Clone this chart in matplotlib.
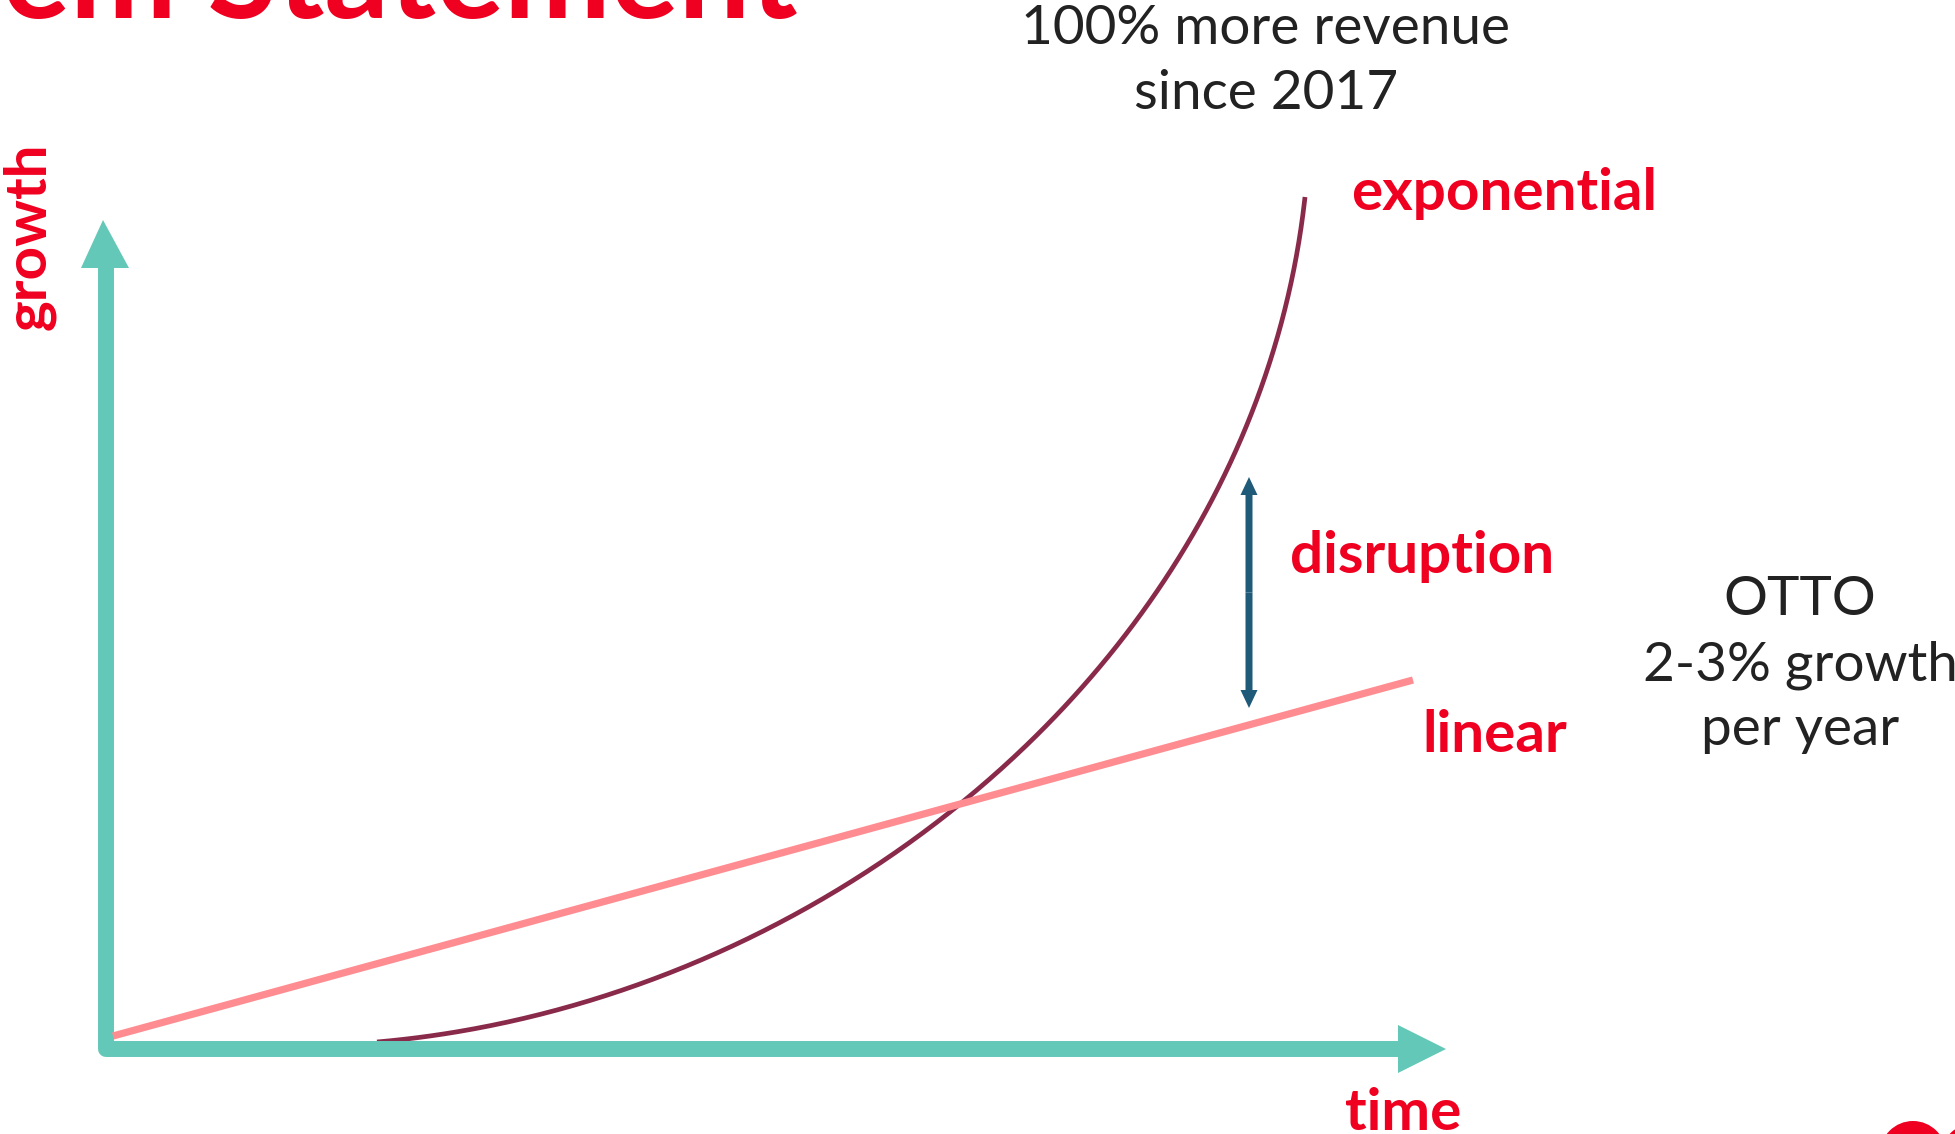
import matplotlib
matplotlib.use("Agg")
import numpy as np
import matplotlib.pyplot as plt
from matplotlib.patches import Polygon, Ellipse

# ---------------- data ----------------
linear_time = [0.07, 13.07]
linear_growth = [0.13, 3.69]

exp_time = [2.71, 3.94, 4.94, 5.94, 6.94, 7.94, 8.48, 9.44, 9.94, 10.44, 10.94, 11.34, 11.64, 11.91, 11.99]
exp_growth = [0.07, 0.23, 0.52, 0.90, 1.38, 1.98, 2.41, 3.29, 3.81, 4.44, 5.27, 6.09, 6.93, 8.09, 8.52]

disruption_x = 11.43
disruption_range = [3.41, 5.72]

axis_top = 8.29      # tip of growth arrow
axis_right = 13.40   # tip of time arrow

title = "Problem Statement"
note_exp = ["100% more revenue", "since 2017"]
note_otto = ["OTTO", "2-3% growth", "per year"]
labels = {"exponential": (12.45, 8.39), "disruption": (11.84, 4.76),
          "linear": (13.16, 2.97), "time": (12.39, -0.81)}

# ---------------- style ----------------
RED = "#F00020"
TEAL = "#64C8B8"
SALMON = "#FF8C90"
MAROON = "#8A2A4B"
BLUE = "#1F5B79"
TXT = "#222222"
BOLD = dict(family="Lato", weight="bold", color=RED, fontsize=42)
REG = dict(family="Lato", color=TXT, fontsize=39.5)


def bezier_fit(xs, ys, iters=30, n=400):
    """Least-squares cubic Bezier through the read points (ends fixed) for a smooth stroke."""
    D = np.column_stack([xs, ys]).astype(float)
    P0, P3 = D[0], D[-1]
    seg = np.r_[0, np.cumsum(np.linalg.norm(np.diff(D, axis=0), axis=1))]
    t = seg / seg[-1]

    def basis(t):
        t = np.asarray(t)[:, None]
        return (1 - t) ** 3, 3 * (1 - t) ** 2 * t, 3 * (1 - t) * t ** 2, t ** 3

    for _ in range(iters):
        b0, b1, b2, b3 = basis(t)
        rhs = D - b0 * P0 - b3 * P3
        A = np.hstack([b1, b2])
        sol, *_ = np.linalg.lstsq(A, rhs, rcond=None)
        P1, P2 = sol[0], sol[1]
        tt = np.linspace(0, 1, 4000)
        c0, c1, c2, c3 = basis(tt)
        curve = c0 * P0 + c1 * P1 + c2 * P2 + c3 * P3
        d = np.linalg.norm(curve[None, :, :] - D[:, None, :], axis=2)
        t = tt[np.argmin(d, axis=1)]
        t[0], t[-1] = 0.0, 1.0
    tt = np.linspace(0, 1, n)
    c0, c1, c2, c3 = basis(tt)
    curve = c0 * P0 + c1 * P1 + c2 * P2 + c3 * P3
    return curve[:, 0], curve[:, 1]


fig = plt.figure(figsize=(19.56, 11.34), dpi=100)
ax = fig.add_axes([0, 0, 1, 1])
ax.set_xlim(-1.06, 18.50)
ax.set_ylim(-0.85, 10.49)
ax.axis("off")

# axes (L shape) with arrow heads
hl, hw = 0.48, 0.24
ax.plot([0, 0, axis_right - hl], [axis_top - hl, 0, 0], color=TEAL, lw=11.5,
        solid_joinstyle="round", solid_capstyle="butt", zorder=2)
ax.add_patch(Polygon([[-hw - 0.01, axis_top - hl], [hw - 0.01, axis_top - hl], [-0.03, axis_top]],
                     closed=True, color=TEAL, zorder=2, lw=0))
ax.add_patch(Polygon([[axis_right - hl, -hw], [axis_right - hl, hw], [axis_right, 0]],
                     closed=True, color=TEAL, zorder=2, lw=0))

# curves
ax.plot(linear_time, linear_growth, color=SALMON, lw=5.2, solid_capstyle="butt", zorder=3)
sx, sy = bezier_fit(exp_time, exp_growth)
ax.plot(sx, sy, color=MAROON, lw=3.4, solid_capstyle="butt", zorder=1)

# disruption double arrow
lo, hi = disruption_range
mid = (lo + hi) / 2
for end in (lo, hi):
    ax.arrow(disruption_x, mid, 0, end - mid, width=0.07, head_width=0.17, head_length=0.18,
             length_includes_head=True, color=BLUE, lw=0, zorder=4)

# labels
for txt, (x, y) in labels.items():
    ax.text(x, y, txt, ha="left", va="baseline", **BOLD)
ax.text(-0.77, 8.13, "growth", rotation=90, ha="center", va="center", **BOLD)

# notes
ax.text(11.60, 10.05, note_exp[0], ha="center", va="baseline", **REG)
ax.text(11.60, 9.40, note_exp[1], ha="center", va="baseline", **REG)
for i, line in enumerate(note_otto):
    ax.text(16.94, 4.34 - 0.65 * i, line, ha="center", va="baseline", **REG)

# cut-off title
ax.text(6.92, 10.31, title, ha="right", va="baseline", family="Lato", weight="bold",
        color=RED, fontsize=91.5)

# partial logo at bottom right
ax.add_patch(Ellipse((18.07, -1.05), 0.66, 0.66, color=RED, lw=0))
ax.add_patch(Ellipse((18.66, -1.05), 0.60, 0.60, color=RED, lw=0))

fig.savefig("out.png", dpi=100)
